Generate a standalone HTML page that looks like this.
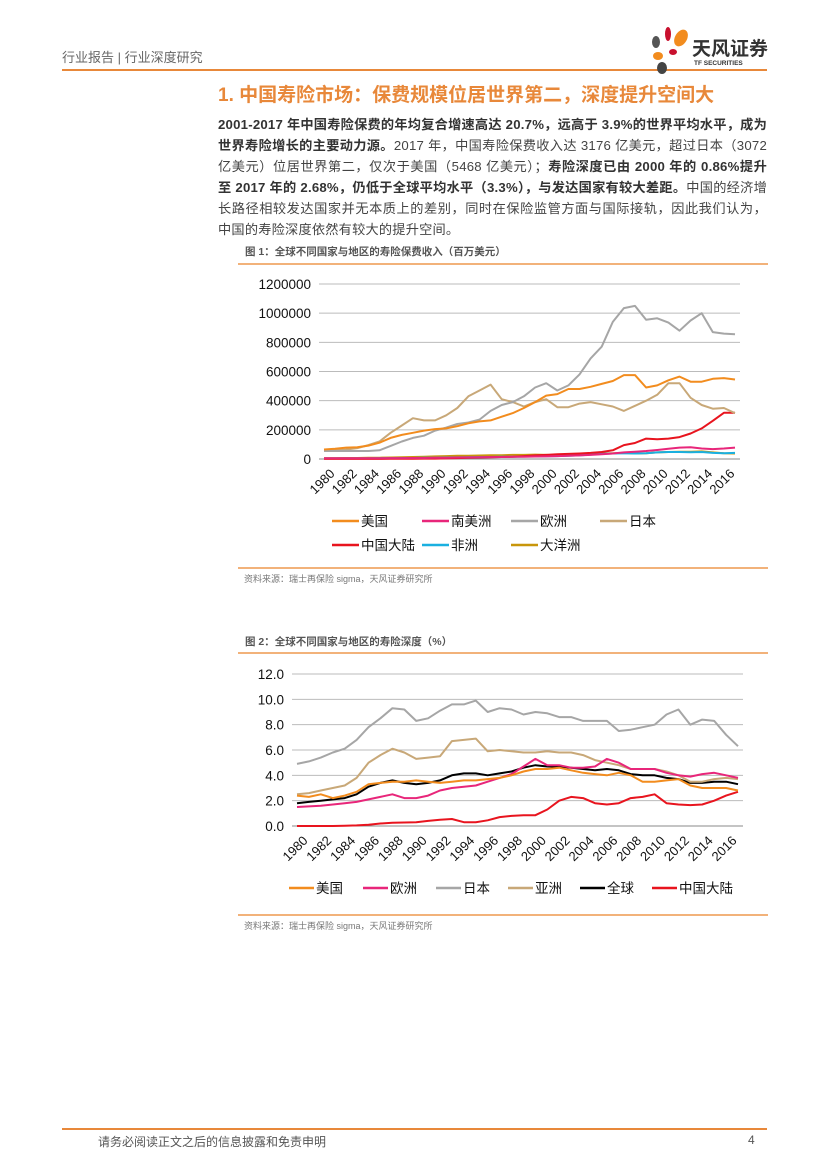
<!DOCTYPE html>
<html><head><meta charset="utf-8">
<style>
body{margin:0;background:#fff;}
#page{position:relative;width:827px;height:1169px;overflow:hidden;font-family:"Liberation Sans","Noto Sans CJK SC",sans-serif;color:#333;}
.abs{position:absolute;white-space:nowrap;}
.para{position:absolute;left:218px;top:114px;width:549px;font-size:13.2px;letter-spacing:0.22px;line-height:21px;color:#444;text-align:justify;}
.para b{color:#333;}
</style></head><body>
<div id="page">
<div class="abs" style="left:62px;top:47px;font-size:13px;color:#666;">行业报告 | 行业深度研究</div>
<div class="abs" style="left:62px;top:69px;width:705px;height:2px;background:#E8883A;"></div>
<svg class="abs" style="left:648px;top:26px" width="45" height="48">
<ellipse cx="20" cy="8" rx="3" ry="7" fill="#C8102E"/>
<ellipse cx="8" cy="16" rx="4" ry="6" fill="#555"/>
<ellipse cx="33" cy="12" rx="6" ry="9" fill="#F28C1E" transform="rotate(30 33 12)"/>
<ellipse cx="10" cy="30" rx="5" ry="4" fill="#F28C1E"/>
<ellipse cx="25" cy="26" rx="4" ry="3" fill="#C8102E"/>
<ellipse cx="14" cy="42" rx="5" ry="6" fill="#444"/>
</svg>
<div class="abs" style="left:692px;top:34px;font-size:19px;font-weight:bold;color:#333;">天风证券</div>
<div class="abs" style="left:694px;top:60px;font-size:6.5px;font-weight:bold;color:#333;">TF SECURITIES</div>
<div class="abs" style="left:218px;top:80px;font-size:19px;font-weight:bold;color:#E8883A;">1. 中国寿险市场：保费规模位居世界第二，深度提升空间大</div>
<div class="para"><b>2001-2017 年中国寿险保费的年均复合增速高达 20.7%，远高于 3.9%的世界平均水平，成为世界寿险增长的主要动力源。</b>2017 年，中国寿险保费收入达 3176 亿美元，超过日本（3072 亿美元）位居世界第二，仅次于美国（5468 亿美元）；<b>寿险深度已由 2000 年的 0.86%提升至 2017 年的 2.68%，仍低于全球平均水平（3.3%），与发达国家有较大差距。</b>中国的经济增长路径相较发达国家并无本质上的差别，同时在保险监管方面与国际接轨，因此我们认为，中国的寿险深度依然有较大的提升空间。</div>
<div class="abs" style="left:245px;top:244px;font-size:10.5px;font-weight:bold;color:#555;">图 1：全球不同国家与地区的寿险保费收入（百万美元）</div>
<div class="abs" style="left:238px;top:263px;width:530px;height:2px;background:#F2B27A;"></div>
<div class="abs" style="left:238px;top:567px;width:530px;height:2px;background:#F2B27A;"></div>
<div class="abs" style="left:244px;top:572px;font-size:9px;color:#777;">资料来源：瑞士再保险 sigma，天风证券研究所</div>
<div class="abs" style="left:245px;top:634px;font-size:10.5px;font-weight:bold;color:#555;">图 2：全球不同国家与地区的寿险深度（%）</div>
<div class="abs" style="left:238px;top:652px;width:530px;height:2px;background:#F2B27A;"></div>
<div class="abs" style="left:238px;top:914px;width:530px;height:2px;background:#F2B27A;"></div>
<div class="abs" style="left:244px;top:919px;font-size:9px;color:#777;">资料来源：瑞士再保险 sigma，天风证券研究所</div>
<div class="abs" style="left:62px;top:1128px;width:705px;height:2px;background:#E8883A;"></div>
<div class="abs" style="left:98px;top:1133px;font-size:12px;color:#555;">请务必阅读正文之后的信息披露和免责申明</div>
<div class="abs" style="left:748px;top:1133px;font-size:12px;color:#555;">4</div>
<svg id="chart" class="abs" style="left:0;top:0" width="827" height="1169"></svg>
</div>
<script>
const years=[];for(let y=1980;y<=2017;y++)years.push(y);
const c1Ticks=[0,200000,400000,600000,800000,1000000,1200000];
const usPrem=[65,70,78,80,92,112,145,165,180,195,205,210,225,245,258,265,290,315,350,390,435,445,480,480,495,515,535,575,575,490,505,540,565,530,530,550,555,545];
const euPrem=[55,55,55,55,55,60,90,120,145,160,195,215,240,250,270,330,370,390,430,490,520,470,505,580,690,770,940,1035,1050,955,965,935,880,950,1000,870,860,855];
const jpPrem=[55,60,65,75,95,120,180,230,280,265,265,300,350,430,470,510,410,390,360,390,410,355,355,380,390,375,360,330,365,400,440,520,520,420,370,345,350,315];
const cnPrem=[1,1,1,1,1,1,2,2,2,3,3,4,6,8,10,12,14,16,20,25,28,32,35,38,42,48,60,95,110,140,135,140,150,175,210,262,317,317];
const laPrem=[5,5,5,5,5,5,6,6,7,7,8,9,10,11,12,13,14,15,16,17,18,20,22,25,28,32,38,45,50,55,62,70,78,80,72,68,72,78];
const afPrem=[4,4,4,4,4,5,5,6,7,8,9,10,11,12,13,14,15,16,17,18,19,20,22,25,30,35,38,40,38,40,45,48,48,46,48,42,40,42];
const ocPrem=[6,6,7,7,8,9,10,12,14,16,18,20,22,22,24,26,26,28,28,30,28,25,25,30,35,38,40,42,38,40,45,48,50,50,52,45,40,38];
const c1Series=[["美国",usPrem,"#F28C1E"],["南美洲",laPrem,"#E8267A"],["欧洲",euPrem,"#A6A6A6"],["日本",jpPrem,"#C8A878"],["中国大陆",cnPrem,"#E8141E"],["非洲",afPrem,"#1AB0E0"],["大洋洲",ocPrem,"#C8960A"]];
const c2Ticks=[0,2,4,6,8,10,12];
const usDep=[2.4,2.3,2.5,2.2,2.4,2.7,3.3,3.4,3.5,3.5,3.6,3.5,3.4,3.5,3.6,3.6,3.7,3.8,4.0,4.3,4.5,4.5,4.6,4.4,4.2,4.1,4.0,4.2,4.0,3.5,3.5,3.6,3.7,3.2,3.0,3.0,3.0,2.8];
const euDep=[1.5,1.55,1.6,1.7,1.8,1.9,2.1,2.3,2.5,2.2,2.2,2.4,2.8,3.0,3.1,3.2,3.5,3.8,4.1,4.7,5.3,4.8,4.8,4.6,4.6,4.7,5.3,5.0,4.5,4.5,4.5,4.2,4.0,3.9,4.1,4.2,4.0,3.8];
const jpDep=[4.9,5.1,5.4,5.8,6.1,6.8,7.8,8.5,9.3,9.2,8.3,8.5,9.1,9.6,9.6,9.9,9.0,9.3,9.2,8.8,9.0,8.9,8.6,8.6,8.3,8.3,8.3,7.5,7.6,7.8,8.0,8.8,9.2,8.0,8.4,8.3,7.2,6.3];
const asDep=[2.5,2.6,2.8,3.0,3.2,3.8,5.0,5.6,6.1,5.8,5.3,5.4,5.5,6.7,6.8,6.9,5.9,6.0,5.9,5.8,5.8,5.9,5.8,5.8,5.6,5.2,5.0,4.8,4.5,4.5,4.5,4.3,4.0,3.5,3.5,3.7,3.8,3.7];
const glDep=[1.8,1.9,2.0,2.1,2.2,2.5,3.1,3.4,3.6,3.4,3.3,3.4,3.6,4.0,4.15,4.15,4.0,4.15,4.3,4.6,4.8,4.7,4.7,4.6,4.5,4.4,4.5,4.4,4.1,4.0,4.0,3.8,3.7,3.4,3.4,3.5,3.5,3.3];
const cnDep=[0,0,0,0,0.02,0.05,0.1,0.2,0.25,0.28,0.3,0.4,0.5,0.55,0.3,0.3,0.45,0.7,0.8,0.85,0.85,1.3,2.0,2.3,2.2,1.8,1.7,1.8,2.2,2.3,2.5,1.8,1.7,1.65,1.7,2.0,2.4,2.7];
const c2Series=[["美国",usDep,"#F28C1E"],["欧洲",euDep,"#E8267A"],["日本",jpDep,"#A6A6A6"],["亚洲",asDep,"#C8A878"],["全球",glDep,"#000000"],["中国大陆",cnDep,"#E8141E"]];

const svg=document.getElementById('chart');const NS='http://www.w3.org/2000/svg';
function mk(t,a,txt){const e=document.createElementNS(NS,t);for(const k in a)e.setAttribute(k,a[k]);if(txt!==undefined)e.textContent=txt;svg.appendChild(e);return e;}
function drawChart(o){
  const x=i=>o.x0+(o.x1-o.x0)*i/(years.length-1);
  const y=v=>o.yb-(o.yb-o.yt)*(v-o.ticks[0])/(o.ticks[o.ticks.length-1]-o.ticks[0]);
  o.ticks.forEach(t=>{
    const g=mk('line',{x1:o.px0,x2:o.px1,y1:y(t),y2:y(t),stroke:t===0?'#888':'#BBB','stroke-width':1});
    
    
    const l=mk('text',{x:o.px0-8,y:y(t)+5,'text-anchor':'end','font-size':13.5,fill:'#111','font-family':'Liberation Sans, sans-serif'},o.fmt(t));
    
    
  });
  years.forEach((yr,i)=>{ if(i%2)return;
    const tx=x(i)+5,ty=o.yb+9;
    const l=mk('text',{x:tx,y:ty,'text-anchor':'end','font-size':13,fill:'#111','font-family':'Liberation Sans, sans-serif',transform:`rotate(-45 ${tx} ${ty})`,dy:'0.7em'},String(yr));
    
    
  });
  o.series.slice().reverse().forEach(s=>{
    const p=mk('polyline',{points:s[1].map((v,i)=>x(i).toFixed(1)+','+y(o.scale?v*o.scale:v).toFixed(1)).join(' '),fill:'none',stroke:s[2],'stroke-width':2,'stroke-linejoin':'round'});
    
    
  });
  o.series.forEach((s,i)=>{
    const lx=o.leg[i][0],ly=o.leg[i][1];
    const ln=mk('line',{x1:lx,x2:lx+o.legLen,y1:ly,y2:ly,stroke:s[2],'stroke-width':2.5});
    
    
    const t=mk('text',{x:lx+o.legLen+2,y:ly+5,'font-size':13.5,fill:'#111','font-family':'Liberation Sans, Noto Sans CJK SC, sans-serif'},s[0]);
    
    
  });
}
drawChart({x0:324,x1:735,px0:319,px1:740,yt:284,yb:459,ticks:c1Ticks,scale:1000,fmt:t=>String(t),series:c1Series,legLen:27,
  leg:[[332,521],[422,521],[511,521],[600,521],[332,545],[422,545],[511,545]]});
drawChart({x0:297,x1:738,px0:292,px1:743,yt:674,yb:826,ticks:c2Ticks,fmt:t=>t.toFixed(1),series:c2Series,legLen:25,
  leg:[[289,888],[363,888],[436,888],[508,888],[580,888],[652,888]]});
</script>
</body></html>
